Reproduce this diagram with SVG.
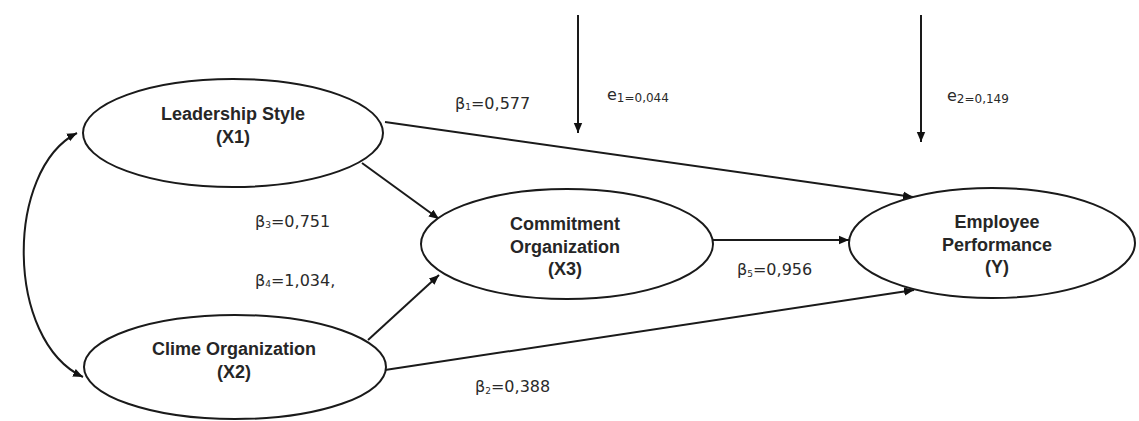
<svg xmlns="http://www.w3.org/2000/svg" width="1139" height="421" viewBox="0 0 1139 421">
<style>
.node ellipse{fill:#fff;stroke:#1a1a1a;stroke-width:2}
.node text{font-family:"Liberation Sans",Arial,sans-serif;font-weight:bold;font-size:18px;fill:#262626;text-anchor:middle}
.conn path,.conn line{fill:none;stroke:#1a1a1a;stroke-width:2}
.lbl{font-family:"DejaVu Sans",Verdana,sans-serif;font-size:16px;fill:#2a2a2a}
.sub{font-size:9px}
.esub{font-size:12px}
</style>
<defs>
<marker id="ah" viewBox="0 0 10 10" refX="10" refY="5" markerWidth="10" markerHeight="10" markerUnits="userSpaceOnUse" orient="auto-start-reverse">
<path d="M0,0.8 L10,5 L0,9.2 Z" fill="#111"/>
</marker>
</defs>
<rect width="1139" height="421" fill="#fff"/>
<g class="conn" id="connectors">
<path d="M77,133 C5,170 5,340 83,377" marker-start="url(#ah)" marker-end="url(#ah)"/>
<line x1="578" y1="15" x2="578" y2="133" marker-end="url(#ah)"/>
<line x1="921" y1="15" x2="921" y2="142" marker-end="url(#ah)"/>
<line x1="385" y1="122" x2="913" y2="197" marker-end="url(#ah)"/>
<line x1="362" y1="163" x2="439" y2="219" marker-end="url(#ah)"/>
<line x1="368" y1="340" x2="439" y2="275" marker-end="url(#ah)"/>
<line x1="385" y1="370" x2="914" y2="290" marker-end="url(#ah)"/>
<line x1="713" y1="240" x2="849" y2="240" marker-end="url(#ah)"/>
</g>
<g class="node" id="leadership">
<ellipse cx="233" cy="133" rx="150" ry="54"/>
<text x="233" y="120">Leadership Style</text>
<text x="233" y="143">(X1)</text>
</g>
<g class="node" id="clime">
<ellipse cx="235" cy="367" rx="151" ry="52"/>
<text x="234" y="355">Clime Organization</text>
<text x="234" y="378">(X2)</text>
</g>
<g class="node" id="commitment">
<ellipse cx="567" cy="244" rx="146" ry="55"/>
<text x="565" y="230">Commitment</text>
<text x="565" y="253">Organization</text>
<text x="565" y="275">(X3)</text>
</g>
<g class="node" id="employee">
<ellipse cx="992" cy="243" rx="143" ry="55"/>
<text x="997" y="228">Employee</text>
<text x="997" y="251">Performance</text>
<text x="997" y="273">(Y)</text>
</g>
<g id="labels">
<text class="lbl" x="455" y="109">β<tspan class="sub" dy="1">1</tspan><tspan dy="-1">=0,577</tspan></text>
<text class="lbl" x="607" y="100">e<tspan class="esub" dy="2">1=0,044</tspan></text>
<text class="lbl" x="947" y="101">e<tspan class="esub" dy="2">2=0,149</tspan></text>
<text class="lbl" x="255" y="227">β<tspan class="sub" dy="1">3</tspan><tspan dy="-1">=0,751</tspan></text>
<text class="lbl" x="255" y="286">β<tspan class="sub" dy="1">4</tspan><tspan dy="-1">=1,034,</tspan></text>
<text class="lbl" x="737" y="275">β<tspan class="sub" dy="2">5</tspan><tspan dy="-2">=0,956</tspan></text>
<text class="lbl" x="475" y="392">β<tspan class="sub" dy="2">2</tspan><tspan dy="-2">=0,388</tspan></text>
</g>
</svg>
